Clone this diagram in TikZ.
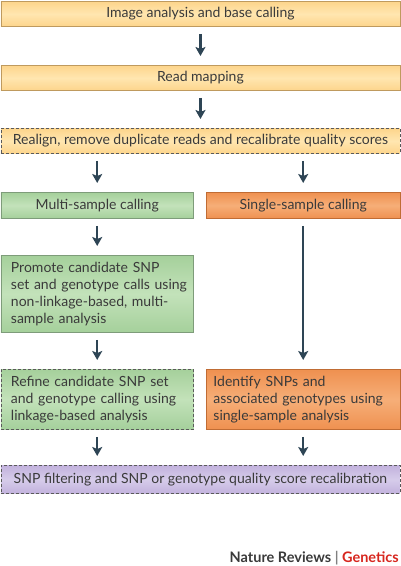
\documentclass[tikz,border=0pt]{standalone}
\usepackage{fontspec}
\setmainfont{Lato}
\usetikzlibrary{arrows.meta}
\definecolor{txt}{HTML}{3A3A3A}
\definecolor{arrc}{HTML}{2E4555}
\definecolor{yel}{HTML}{FDD58C}
\definecolor{yelm}{HTML}{FFE6B0}
\definecolor{yelb}{HTML}{BF9A5E}
\definecolor{grn}{HTML}{A5D09B}
\definecolor{grnm}{HTML}{C3E2BA}
\definecolor{grnb}{HTML}{7E9C7A}
\definecolor{org}{HTML}{EF9150}
\definecolor{orgm}{HTML}{F6AE78}
\definecolor{orgb}{HTML}{C06C34}
\definecolor{pur}{HTML}{C2B2DD}
\definecolor{purm}{HTML}{D6CCEA}
\definecolor{dsh}{HTML}{5A5A5A}
\definecolor{natred}{HTML}{D7261E}
\tikzset{
  box/.style={draw, line width=0.9pt, anchor=north west, inner sep=0pt, text=txt,
    font=\fontsize{14}{17}\selectfont},
  yelbox/.style={box, draw=yelb, top color=yel, bottom color=yel, middle color=yelm},
  grnbox/.style={box, draw=grnb, top color=grn, bottom color=grn, middle color=grnm},
  orgbox/.style={box, draw=orgb, top color=org, bottom color=org, middle color=orgm},
  purbox/.style={box, draw=dsh, top color=pur, bottom color=pur, middle color=purm},
  dashbox/.style={draw=dsh, dash pattern=on 3pt off 2pt},
  arr/.style={draw=arrc, line width=2.3pt, -{Stealth[length=9pt,width=10pt,inset=2pt]},
    shorten <=7pt, shorten >=9pt}
}
\begin{document}
\begin{tikzpicture}[x=1pt,y=-1pt]
\useasboundingbox (0,0) rectangle (400,566);
\node[yelbox, minimum width=399pt, minimum height=25pt] (b1) at (0.5,1) {Image analysis and base calling};
\node[yelbox, minimum width=399pt, minimum height=25pt] (b2) at (0.5,65) {Read mapping};
\node[yelbox, dashbox, minimum width=399pt, minimum height=25pt] (b3) at (0.5,128) {Realign, remove duplicate reads and recalibrate quality scores};
\node[grnbox, minimum width=192.5pt, minimum height=26pt] (multi) at (0.5,192) {Multi-sample calling};
\node[orgbox, minimum width=193.5pt, minimum height=26pt] (single) at (206,192) {Single-sample calling};
\node[grnbox, minimum width=192.5pt, minimum height=77pt, align=left, text width=172.5pt, inner xsep=10pt] (prom) at (0.5,255)
  {\mbox{Promote candidate SNP}\\\mbox{set and genotype calls using}\\\mbox{non-linkage-based, multi-}\\\mbox{sample analysis}};
\node[grnbox, dashbox, minimum width=192.5pt, minimum height=60pt, align=left, text width=172.5pt, inner xsep=10pt] (ref) at (0.5,369)
  {\mbox{Refine candidate SNP set}\\\mbox{and genotype calling using}\\\mbox{linkage-based analysis}};
\node[orgbox, minimum width=193.5pt, minimum height=60pt, align=left, text width=179.5pt, inner xsep=7pt] (iden) at (206,369)
  {\mbox{Identify SNPs and}\\\mbox{associated genotypes using}\\\mbox{single-sample analysis}};
\node[purbox, dashbox, minimum width=399pt, minimum height=28pt] (filt) at (0.5,465)
  {SNP filtering and SNP or genotype quality score recalibration};
\node[anchor=east, inner sep=0pt, font=\bfseries\fontsize{14.5}{16}\selectfont] (credit) at (399,558)
  {\textcolor{txt}{Nature Reviews} {\color{gray}|} \textcolor{natred}{Genetics}};
\draw[arr] (b1) -- (b2);
\draw[arr] (b2) -- (b3);
\draw[arr] (b3.south -| multi.north) -- (multi.north);
\draw[arr] (b3.south -| single.north) -- (single.north);
\draw[arr] (multi) -- (prom);
\draw[arr] (single) -- (iden);
\draw[arr] (prom) -- (ref);
\draw[arr] (ref.south) -- (filt.north -| ref.south);
\draw[arr] (iden.south) -- (filt.north -| iden.south);
\end{tikzpicture}
\end{document}
